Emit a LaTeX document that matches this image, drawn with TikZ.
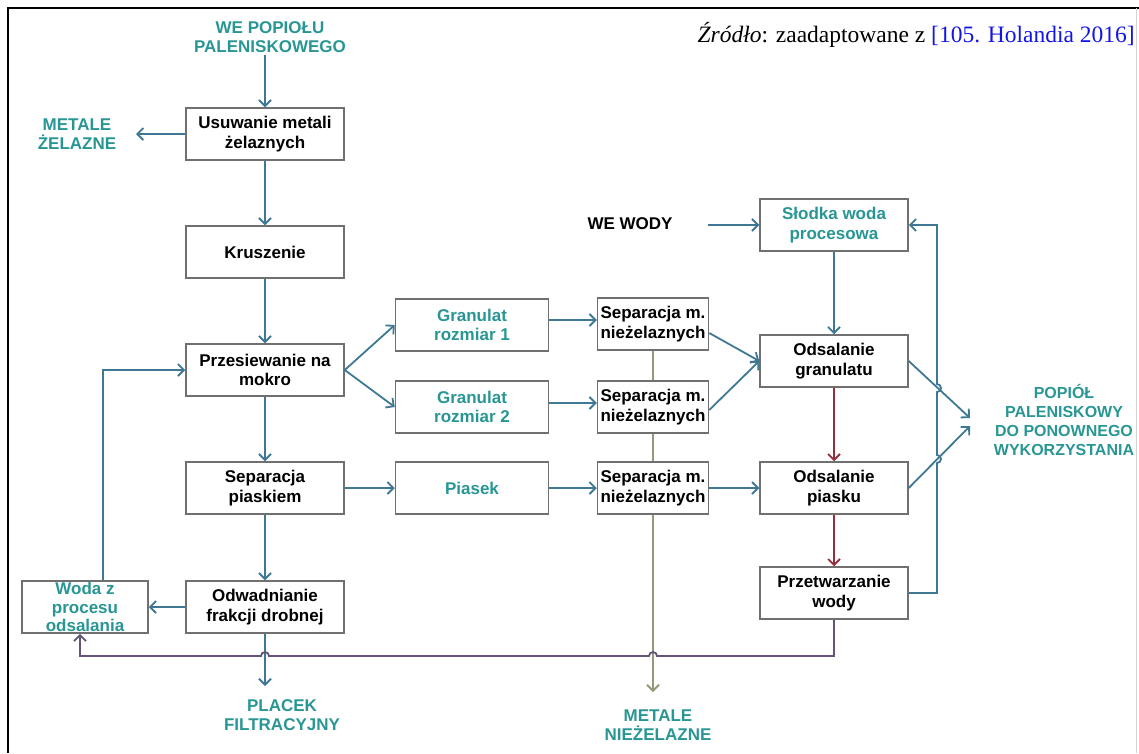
\documentclass[tikz,border=0pt]{standalone}
\usepackage{fontspec}
\setmainfont{Liberation Serif}
\setsansfont{Liberation Sans}
\usetikzlibrary{arrows.meta, positioning, calc}
\definecolor{LabelTeal}{RGB}{40,150,148}
\definecolor{FlowBlue}{RGB}{62,120,148}
\definecolor{BoxGray}{RGB}{112,112,112}
\definecolor{BrineRed}{RGB}{150,45,60}
\definecolor{ReturnPurple}{RGB}{100,85,120}
\definecolor{MetalOlive}{RGB}{150,150,122}
\definecolor{RefBlue}{RGB}{20,20,230}
\newcommand{\boxfont}{\sffamily\bfseries\fontsize{17}{19.5}\selectfont}

\begin{document}
\begin{tikzpicture}[x=1pt,y=-1pt,
    box/.style={draw=BoxGray,line width=1.5pt,fill=white,align=center,
      font=\boxfont,minimum width=158pt,minimum height=52pt,inner sep=2pt},
    tealbox/.style={box,text=LabelTeal},
    lbl/.style={align=center,font=\boxfont,text=LabelTeal,inner sep=2pt},
    flow/.style={draw=FlowBlue,line width=1.8pt,-{Straight Barb[length=6pt,width=12pt]}},
    brine/.style={flow,draw=BrineRed},
    back/.style={flow,draw=ReturnPurple},
    metal/.style={flow,draw=MetalOlive}]
  \useasboundingbox (0,0) rectangle (1139,753);
  \draw[line width=2.4pt] (8,753) -- (8,8) -- (1139,8);
  \draw[gray!35,line width=1pt] (1136,8) -- (1136,753);

  \node[anchor=east,inner sep=0pt,font=\fontsize{23.5}{26}\selectfont] (zrodlo) at (1135,35)
    {\textit{Źródło}: zaadaptowane z \textcolor{RefBlue}{[105. Holandia 2016]}};

  % main line
  \node[box] (usun) at (265,134) {Usuwanie metali\\żelaznych};
  \node[box] (krusz) at (265,252) {Kruszenie};
  \node[box] (przes) at (265,370) {Przesiewanie na\\mokro};
  \node[box] (seppias) at (265,488) {Separacja\\piaskiem};
  \node[box] (odwad) at (265,607) {Odwadnianie\\frakcji drobnej};
  \node[tealbox,minimum width=126pt,inner ysep=0pt,
    font={\boxfont\fontsize{17}{18.5}\selectfont}] (wodaz) at (85,607) {Woda z\\procesu\\odsalania};

  % fractions
  \node[tealbox,minimum width=153pt] (gran1) at (472,325) {Granulat\\rozmiar 1};
  \node[tealbox,minimum width=153pt] (gran2) at (472,407) {Granulat\\rozmiar 2};
  \node[tealbox,minimum width=153pt] (piasek) at (472,488) {Piasek};
  \node[box,minimum width=111pt] (sep1) at (653,324) {Separacja m.\\nieżelaznych};
  \node[box,minimum width=111pt] (sep2) at (653,407) {Separacja m.\\nieżelaznych};
  \node[box,minimum width=111pt] (sep3) at (653,488) {Separacja m.\\nieżelaznych};

  % desalting
  \node[tealbox,minimum width=148pt] (slodka) at (834,225) {Słodka woda\\procesowa};
  \node[box,minimum width=148pt] (odsgran) at (834,361) {Odsalanie\\granulatu};
  \node[box,minimum width=148pt] (odspias) at (834,488) {Odsalanie\\piasku};
  \node[box,minimum width=148pt] (przetw) at (834,593) {Przetwarzanie\\wody};

  % inputs and outputs
  \node[lbl] (wepop) at (270,37) {WE POPIOŁU\\PALENISKOWEGO};
  \node[lbl] (metzel) at (77,134) {METALE\\ŻELAZNE};
  \node[lbl,text=black] (wewody) at (630,224) {WE WODY};
  \node[lbl,font={\boxfont\fontsize{16}{18.7}\selectfont}] (popiol) at (1064,420)
    {POPIÓŁ\\PALENISKOWY\\DO PONOWNEGO\\WYKORZYSTANIA};
  \node[lbl] (placek) at (282,715) {PLACEK\\FILTRACYJNY};
  \node[lbl] (metniez) at (658,725) {METALE\\NIEŻELAZNE};

  \coordinate (zelTip) at (136,134);
  \coordinate (wodyStart) at (708,225);
  \coordinate (popTipA) at (970,418);
  \coordinate (popTipB) at (970,426);
  \coordinate (placekTip) at (265,686);
  \coordinate (niezTip) at (653,692);

  \draw[flow] (wepop.south -| usun.north) -- (usun);
  \draw[flow] (usun) -- (zelTip);
  \draw[flow] (usun) -- (krusz);
  \draw[flow] (krusz) -- (przes);
  \draw[flow] (przes) -- (seppias);
  \draw[flow] (seppias) -- (odwad);
  \draw[flow] (przes.east) -- (gran1.west);
  \draw[flow] (przes.east) -- (gran2.west);
  \draw[flow] ([yshift=5pt]gran1.east) -- ([yshift=5pt]gran1.east -| sep1.west);
  \draw[flow] ([yshift=4pt]gran2.east) -- ([yshift=4pt]gran2.east -| sep2.west);
  \draw[flow] (seppias) -- (piasek);
  \draw[flow] (piasek) -- (sep3);
  \draw[flow] (sep3) -- (odspias);
  \draw[flow] ([yshift=-9pt]sep1.east) -- (odsgran.west);
  \draw[flow] ([yshift=-3pt]sep2.east) -- (odsgran.west);
  \draw[flow] (wodyStart) -- (slodka);
  \draw[flow] (slodka) -- (odsgran);
  \draw[brine] (odsgran) -- (odspias);
  \draw[brine] (odspias) -- (przetw);
  \draw[flow] (odsgran.east) -- (popTipA);
  \draw[flow] (odspias.east) -- (popTipB);
  % treated water back to the tank, hopping the two outlets
  \draw[flow] (przetw.east) -- (937,593) -- (937,463)
    arc[start angle=90,end angle=-90,radius=4] -- (937,392)
    arc[start angle=90,end angle=-90,radius=4] -- (937,225) -- (slodka.east);

  \draw[flow] (odwad) -- (wodaz);
  \draw[flow] ([xshift=18pt]wodaz.north) |- (przes.west);
  \draw[flow] (odwad) -- (placekTip);
  \draw[metal,-] (sep1) -- (sep2);
  \draw[metal,-] (sep2) -- (sep3);
  \draw[metal] (sep3) -- (niezTip);
  % brine return to the left
  \draw[back] (przetw.south) |- (657,656) arc[start angle=0,end angle=-180,radius=4]
    -- (269,656) arc[start angle=0,end angle=-180,radius=4]
    -- (80,656) -- ([xshift=-5pt]wodaz.south);
\end{tikzpicture}
\end{document}
